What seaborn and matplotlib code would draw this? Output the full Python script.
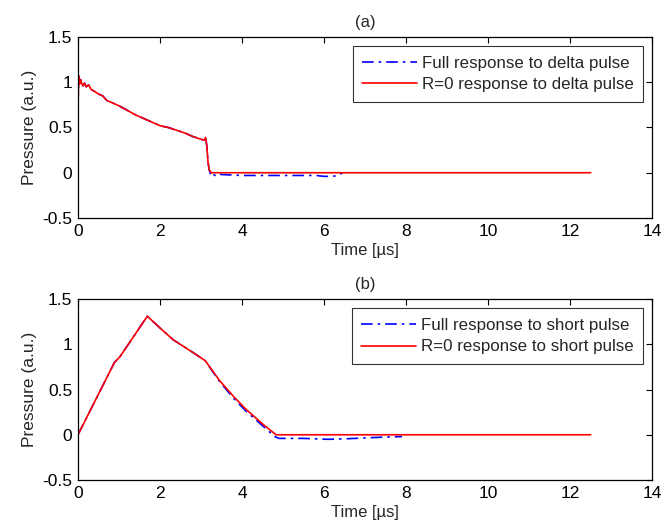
import matplotlib
matplotlib.use("Agg")
import matplotlib.pyplot as plt
import seaborn as sns
import pandas as pd

sns.set_style("white")
plt.rcParams['font.family'] = ['Liberation Sans', 'DejaVu Sans']

# Panel (a): response to delta pulse
t_a_red = [0, 0.02, 0.04, 0.06, 0.08, 0.12, 0.16, 0.2, 0.26, 0.32, 0.4, 0.5, 0.6, 0.7, 0.8,
           1.0, 1.2, 1.4, 1.6, 1.8, 2.0, 2.2, 2.4, 2.6, 2.8, 3.0, 3.08, 3.11, 3.14, 3.17, 3.2, 3.25, 12.5]
p_a_red = [0.75, 1.07, 0.98, 1.03, 1.0, 0.96, 0.99, 0.95, 0.97, 0.92, 0.9, 0.87, 0.85, 0.8, 0.78,
           0.74, 0.69, 0.64, 0.60, 0.56, 0.52, 0.50, 0.47, 0.44, 0.40, 0.37, 0.36, 0.39, 0.30, 0.12, 0.03, 0.0, 0.0]
t_a_blue = [0, 0.02, 0.04, 0.06, 0.08, 0.12, 0.16, 0.2, 0.26, 0.32, 0.4, 0.5, 0.6, 0.7, 0.8,
            1.0, 1.2, 1.4, 1.6, 1.8, 2.0, 2.2, 2.4, 2.6, 2.8, 3.0, 3.08, 3.11, 3.14, 3.17, 3.2, 3.25,
            3.3, 3.35, 3.4, 3.5, 4.0, 5.0, 5.8, 6.0, 6.2, 6.35, 6.45]
p_a_blue = [0.75, 1.07, 0.98, 1.03, 1.0, 0.96, 0.99, 0.95, 0.97, 0.92, 0.9, 0.87, 0.85, 0.8, 0.78,
            0.74, 0.69, 0.64, 0.60, 0.56, 0.52, 0.50, 0.47, 0.44, 0.40, 0.37, 0.36, 0.39, 0.30, 0.12, 0.03, -0.04,
            -0.02, -0.03, -0.01, -0.02, -0.03, -0.03, -0.03, -0.04, -0.04, -0.03, 0.0]

# Panel (b): response to short pulse
t_b_red = [0, 0.89, 1.02, 1.69, 2.0, 2.32, 2.8, 3.1, 3.45, 3.8, 4.1, 4.5, 4.83, 12.5]
p_b_red = [0, 0.80, 0.86, 1.31, 1.18, 1.05, 0.91, 0.82, 0.60, 0.42, 0.28, 0.12, 0.0, 0.0]
t_b_blue = [0, 0.89, 1.02, 1.69, 2.0, 2.32, 2.8, 3.1, 3.45, 3.8, 4.1, 4.5, 4.8, 4.9, 5.5, 6.1, 6.5, 7.0, 7.5, 7.9]
p_b_blue = [0, 0.80, 0.86, 1.31, 1.18, 1.05, 0.91, 0.82, 0.59, 0.40, 0.26, 0.10, -0.02, -0.04, -0.04,
            -0.05, -0.045, -0.035, -0.025, -0.02]

labels_a = ["Full response to delta pulse", "R=0 response to delta pulse"]
labels_b = ["Full response to short pulse", "R=0 response to short pulse"]
titles = ["(a)", "(b)"]
x_ticks = [0, 2, 4, 6, 8, 10, 12, 14]
y_ticks = [-0.5, 0, 0.5, 1, 1.5]
y_ticklabels = ["-0.5", "0", "0.5", "1", "1.5"]

fig = plt.figure(figsize=(6.7, 5.3), dpi=100)
ax_a = fig.add_axes([0.1164, 0.5887, 0.857, 0.3415])
ax_b = fig.add_axes([0.1164, 0.0943, 0.857, 0.3415])

panels = [
    (ax_a, t_a_blue, p_a_blue, t_a_red, p_a_red, labels_a, titles[0]),
    (ax_b, t_b_blue, p_b_blue, t_b_red, p_b_red, labels_b, titles[1]),
]

for ax, tb, pb, tr, pr, labs, ttl in panels:
    dfb = pd.DataFrame({"t": tb, "p": pb})
    dfr = pd.DataFrame({"t": tr, "p": pr})
    sns.lineplot(data=dfb, x="t", y="p", ax=ax, color=(0, 0, 1), lw=1.2,
                 estimator=None, sort=False, label=labs[0], dashes=False)
    ax.lines[-1].set_dashes([7, 3, 1.5, 3])
    sns.lineplot(data=dfr, x="t", y="p", ax=ax, color=(1, 0, 0), lw=1.2,
                 estimator=None, sort=False, label=labs[1])
    ax.set_xlim(0, 14)
    ax.set_ylim(-0.5, 1.5)
    ax.set_xticks(x_ticks)
    ax.set_yticks(y_ticks)
    ax.set_yticklabels(y_ticklabels)
    ax.tick_params(direction="in", top=True, right=True, labelsize=12.5, length=4,
                   width=0.8, colors="black", pad=4)
    for s in ax.spines.values():
        s.set_color("black")
        s.set_linewidth(0.9)
    ax.set_xlabel("Time [µs]", fontsize=12, labelpad=3)
    ax.set_ylabel("Pressure (a.u.)", fontsize=12.5, labelpad=4)
    ax.set_title(ttl, fontsize=12, pad=7)
    leg = ax.legend(loc="upper right", fontsize=12.2, frameon=True, fancybox=False,
                    borderaxespad=0.55, handlelength=3.2, handletextpad=0.3,
                    borderpad=0.55, labelspacing=0.4)
    leg.get_frame().set_edgecolor("black")
    leg.get_frame().set_linewidth(0.8)

fig.savefig("out.png", dpi=100)
